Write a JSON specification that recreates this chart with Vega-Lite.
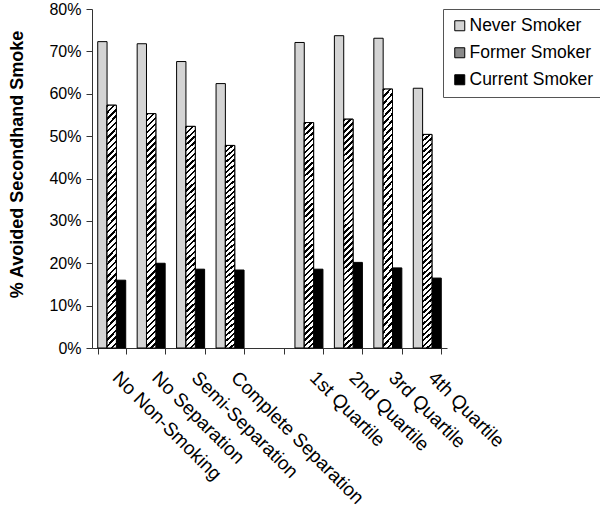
{
  "$schema": "https://vega.github.io/schema/vega-lite/v6.json",
  "width": 355,
  "height": 339,
  "autosize": {"type": "none"},
  "padding": {"left": 92, "top": 9, "right": 153, "bottom": 161},
  "background": "white",
  "config": {"view": {"stroke": null}, "font": "Liberation Sans"},
  "data": {"values": [
    {"category": "No Non-Smoking", "group": "Never Smoker", "value": 0.723},
    {"category": "No Non-Smoking", "group": "Former Smoker", "value": 0.573},
    {"category": "No Non-Smoking", "group": "Current Smoker", "value": 0.160},
    {"category": "No Separation", "group": "Never Smoker", "value": 0.718},
    {"category": "No Separation", "group": "Former Smoker", "value": 0.553},
    {"category": "No Separation", "group": "Current Smoker", "value": 0.200},
    {"category": "Semi-Separation", "group": "Never Smoker", "value": 0.676},
    {"category": "Semi-Separation", "group": "Former Smoker", "value": 0.523},
    {"category": "Semi-Separation", "group": "Current Smoker", "value": 0.186},
    {"category": "Complete Separation", "group": "Never Smoker", "value": 0.624},
    {"category": "Complete Separation", "group": "Former Smoker", "value": 0.478},
    {"category": "Complete Separation", "group": "Current Smoker", "value": 0.184},
    {"category": "1st Quartile", "group": "Never Smoker", "value": 0.721},
    {"category": "1st Quartile", "group": "Former Smoker", "value": 0.532},
    {"category": "1st Quartile", "group": "Current Smoker", "value": 0.186},
    {"category": "2nd Quartile", "group": "Never Smoker", "value": 0.737},
    {"category": "2nd Quartile", "group": "Former Smoker", "value": 0.540},
    {"category": "2nd Quartile", "group": "Current Smoker", "value": 0.202},
    {"category": "3rd Quartile", "group": "Never Smoker", "value": 0.731},
    {"category": "3rd Quartile", "group": "Former Smoker", "value": 0.611},
    {"category": "3rd Quartile", "group": "Current Smoker", "value": 0.189},
    {"category": "4th Quartile", "group": "Never Smoker", "value": 0.613},
    {"category": "4th Quartile", "group": "Former Smoker", "value": 0.504},
    {"category": "4th Quartile", "group": "Current Smoker", "value": 0.165}
  ]},
  "encoding": {
    "x": {
      "field": "category", "type": "nominal",
      "scale": {"domain": ["No Non-Smoking", "No Separation", "Semi-Separation", "Complete Separation", " ", "1st Quartile", "2nd Quartile", "3rd Quartile", "4th Quartile"], "paddingInner": 0.29, "paddingOuter": 0.145},
      "axis": {"title": null, "labelAngle": 45, "labelAlign": "left", "labelBaseline": "top", "labelFontSize": 19, "labelColor": "black", "labelPadding": 14, "labelOffset": 10, "labelLimit": 400, "labelOverlap": false, "tickBand": "extent", "tickSize": 6, "domainColor": "#333", "tickColor": "#333"}
    },
    "xOffset": {
      "field": "group", "type": "nominal",
      "scale": {"domain": ["Never Smoker", "Former Smoker", "Current Smoker"], "paddingInner": 0, "paddingOuter": 0}
    },
    "y": {
      "field": "value", "type": "quantitative",
      "scale": {"domain": [0, 0.8], "nice": false},
      "axis": {"title": "% Avoided Secondhand Smoke", "format": ".0%", "values": [0, 0.1, 0.2, 0.3, 0.4, 0.5, 0.6, 0.7, 0.8], "grid": false, "tickSize": 6, "labelPadding": 5, "labelFontSize": 16, "labelColor": "black", "titleFontSize": 18, "titleFontWeight": "bold", "titleColor": "black", "titleX": -70, "titleY": 155, "titleBaseline": "alphabetic", "titleAngle": -90, "titleAlign": "center", "domainColor": "#333", "tickColor": "#333"}
    }
  },
  "layer": [
    {
      "mark": {"type": "bar", "stroke": "black", "strokeWidth": 1},
      "encoding": {
        "color": {
          "field": "group", "type": "nominal",
          "scale": {"domain": ["Never Smoker", "Former Smoker", "Current Smoker"], "range": ["#d4d4d4", "#8a8a8a", "#000000"]},
          "legend": {"title": null, "orient": "none", "legendX": 351, "legendY": 0, "strokeColor": "#555", "fillColor": "white", "padding": 8, "symbolType": "square", "symbolSize": 100, "symbolStrokeColor": "black", "symbolStrokeWidth": 1, "symbolOpacity": 1, "labelFontSize": 17.5, "labelColor": "black", "rowPadding": 8, "labelOffset": 1}
        }
      }
    },
    {
      "transform": [{"filter": "datum.group === 'Former Smoker'"}],
      "mark": {
        "type": "bar", "stroke": "black", "strokeWidth": 1,
        "fill": {
          "gradient": "linear", "x1": 0, "y1": 0, "x2": 0.0415, "y2": 1.038,
          "stops": [
            {"offset": 0, "color": "#000"}, {"offset": 0.01, "color": "#000"}, {"offset": 0.01, "color": "#fff"}, {"offset": 0.025, "color": "#fff"},
            {"offset": 0.025, "color": "#000"}, {"offset": 0.035, "color": "#000"}, {"offset": 0.035, "color": "#fff"}, {"offset": 0.05, "color": "#fff"},
            {"offset": 0.05, "color": "#000"}, {"offset": 0.06, "color": "#000"}, {"offset": 0.06, "color": "#fff"}, {"offset": 0.075, "color": "#fff"},
            {"offset": 0.075, "color": "#000"}, {"offset": 0.085, "color": "#000"}, {"offset": 0.085, "color": "#fff"}, {"offset": 0.1, "color": "#fff"},
            {"offset": 0.1, "color": "#000"}, {"offset": 0.11, "color": "#000"}, {"offset": 0.11, "color": "#fff"}, {"offset": 0.125, "color": "#fff"},
            {"offset": 0.125, "color": "#000"}, {"offset": 0.135, "color": "#000"}, {"offset": 0.135, "color": "#fff"}, {"offset": 0.15, "color": "#fff"},
            {"offset": 0.15, "color": "#000"}, {"offset": 0.16, "color": "#000"}, {"offset": 0.16, "color": "#fff"}, {"offset": 0.175, "color": "#fff"},
            {"offset": 0.175, "color": "#000"}, {"offset": 0.185, "color": "#000"}, {"offset": 0.185, "color": "#fff"}, {"offset": 0.2, "color": "#fff"},
            {"offset": 0.2, "color": "#000"}, {"offset": 0.21, "color": "#000"}, {"offset": 0.21, "color": "#fff"}, {"offset": 0.225, "color": "#fff"},
            {"offset": 0.225, "color": "#000"}, {"offset": 0.235, "color": "#000"}, {"offset": 0.235, "color": "#fff"}, {"offset": 0.25, "color": "#fff"},
            {"offset": 0.25, "color": "#000"}, {"offset": 0.26, "color": "#000"}, {"offset": 0.26, "color": "#fff"}, {"offset": 0.275, "color": "#fff"},
            {"offset": 0.275, "color": "#000"}, {"offset": 0.285, "color": "#000"}, {"offset": 0.285, "color": "#fff"}, {"offset": 0.3, "color": "#fff"},
            {"offset": 0.3, "color": "#000"}, {"offset": 0.31, "color": "#000"}, {"offset": 0.31, "color": "#fff"}, {"offset": 0.325, "color": "#fff"},
            {"offset": 0.325, "color": "#000"}, {"offset": 0.335, "color": "#000"}, {"offset": 0.335, "color": "#fff"}, {"offset": 0.35, "color": "#fff"},
            {"offset": 0.35, "color": "#000"}, {"offset": 0.36, "color": "#000"}, {"offset": 0.36, "color": "#fff"}, {"offset": 0.375, "color": "#fff"},
            {"offset": 0.375, "color": "#000"}, {"offset": 0.385, "color": "#000"}, {"offset": 0.385, "color": "#fff"}, {"offset": 0.4, "color": "#fff"},
            {"offset": 0.4, "color": "#000"}, {"offset": 0.41, "color": "#000"}, {"offset": 0.41, "color": "#fff"}, {"offset": 0.425, "color": "#fff"},
            {"offset": 0.425, "color": "#000"}, {"offset": 0.435, "color": "#000"}, {"offset": 0.435, "color": "#fff"}, {"offset": 0.45, "color": "#fff"},
            {"offset": 0.45, "color": "#000"}, {"offset": 0.46, "color": "#000"}, {"offset": 0.46, "color": "#fff"}, {"offset": 0.475, "color": "#fff"},
            {"offset": 0.475, "color": "#000"}, {"offset": 0.485, "color": "#000"}, {"offset": 0.485, "color": "#fff"}, {"offset": 0.5, "color": "#fff"},
            {"offset": 0.5, "color": "#000"}, {"offset": 0.51, "color": "#000"}, {"offset": 0.51, "color": "#fff"}, {"offset": 0.525, "color": "#fff"},
            {"offset": 0.525, "color": "#000"}, {"offset": 0.535, "color": "#000"}, {"offset": 0.535, "color": "#fff"}, {"offset": 0.55, "color": "#fff"},
            {"offset": 0.55, "color": "#000"}, {"offset": 0.56, "color": "#000"}, {"offset": 0.56, "color": "#fff"}, {"offset": 0.575, "color": "#fff"},
            {"offset": 0.575, "color": "#000"}, {"offset": 0.585, "color": "#000"}, {"offset": 0.585, "color": "#fff"}, {"offset": 0.6, "color": "#fff"},
            {"offset": 0.6, "color": "#000"}, {"offset": 0.61, "color": "#000"}, {"offset": 0.61, "color": "#fff"}, {"offset": 0.625, "color": "#fff"},
            {"offset": 0.625, "color": "#000"}, {"offset": 0.635, "color": "#000"}, {"offset": 0.635, "color": "#fff"}, {"offset": 0.65, "color": "#fff"},
            {"offset": 0.65, "color": "#000"}, {"offset": 0.66, "color": "#000"}, {"offset": 0.66, "color": "#fff"}, {"offset": 0.675, "color": "#fff"},
            {"offset": 0.675, "color": "#000"}, {"offset": 0.685, "color": "#000"}, {"offset": 0.685, "color": "#fff"}, {"offset": 0.7, "color": "#fff"},
            {"offset": 0.7, "color": "#000"}, {"offset": 0.71, "color": "#000"}, {"offset": 0.71, "color": "#fff"}, {"offset": 0.725, "color": "#fff"},
            {"offset": 0.725, "color": "#000"}, {"offset": 0.735, "color": "#000"}, {"offset": 0.735, "color": "#fff"}, {"offset": 0.75, "color": "#fff"},
            {"offset": 0.75, "color": "#000"}, {"offset": 0.76, "color": "#000"}, {"offset": 0.76, "color": "#fff"}, {"offset": 0.775, "color": "#fff"},
            {"offset": 0.775, "color": "#000"}, {"offset": 0.785, "color": "#000"}, {"offset": 0.785, "color": "#fff"}, {"offset": 0.8, "color": "#fff"},
            {"offset": 0.8, "color": "#000"}, {"offset": 0.81, "color": "#000"}, {"offset": 0.81, "color": "#fff"}, {"offset": 0.825, "color": "#fff"},
            {"offset": 0.825, "color": "#000"}, {"offset": 0.835, "color": "#000"}, {"offset": 0.835, "color": "#fff"}, {"offset": 0.85, "color": "#fff"},
            {"offset": 0.85, "color": "#000"}, {"offset": 0.86, "color": "#000"}, {"offset": 0.86, "color": "#fff"}, {"offset": 0.875, "color": "#fff"},
            {"offset": 0.875, "color": "#000"}, {"offset": 0.885, "color": "#000"}, {"offset": 0.885, "color": "#fff"}, {"offset": 0.9, "color": "#fff"},
            {"offset": 0.9, "color": "#000"}, {"offset": 0.91, "color": "#000"}, {"offset": 0.91, "color": "#fff"}, {"offset": 0.925, "color": "#fff"},
            {"offset": 0.925, "color": "#000"}, {"offset": 0.935, "color": "#000"}, {"offset": 0.935, "color": "#fff"}, {"offset": 0.95, "color": "#fff"},
            {"offset": 0.95, "color": "#000"}, {"offset": 0.96, "color": "#000"}, {"offset": 0.96, "color": "#fff"}, {"offset": 0.975, "color": "#fff"},
            {"offset": 0.975, "color": "#000"}, {"offset": 0.985, "color": "#000"}, {"offset": 0.985, "color": "#fff"}, {"offset": 1, "color": "#fff"}
          ]
        }
      }
    }
  ]
}
